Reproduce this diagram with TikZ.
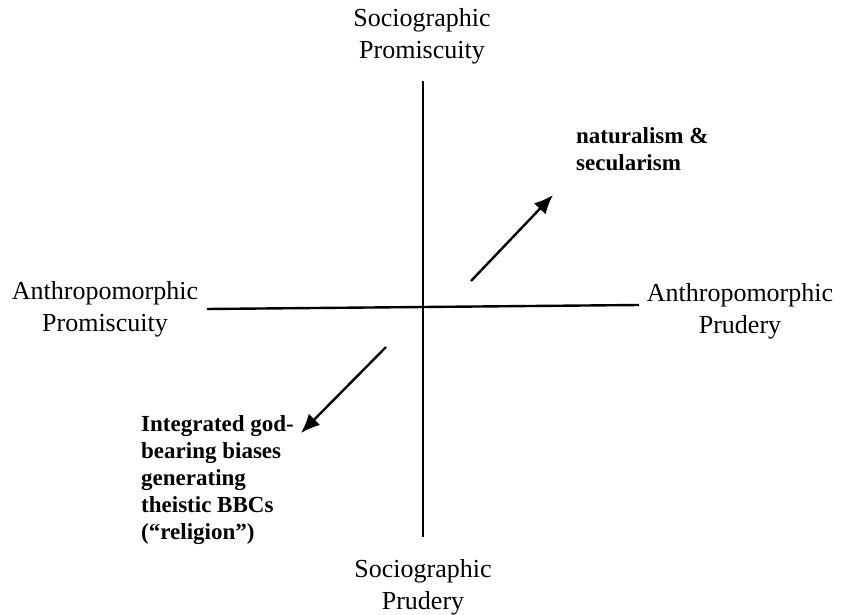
\documentclass[tikz,border=0pt]{standalone}
\usepackage{fontspec}
\setmainfont{Liberation Serif}
\usetikzlibrary{arrows.meta, positioning}

\tikzset{
  axislabel/.style={align=center, inner sep=0pt, font=\fontsize{26}{32}\selectfont},
  trend/.style={align=left, inner sep=0pt, font=\bfseries\fontsize{23}{27}\selectfont}
}

\begin{document}
\begin{tikzpicture}[>={Latex[length=19pt,width=16pt]}, x=1pt, y=-1pt, line width=2.4pt]
\useasboundingbox (0,0) rectangle (841,615);

\coordinate (ytop) at (423,81);
\coordinate (ybot) at (423,537);
\coordinate (xlft) at (207,309);
\coordinate (xrgt) at (639,305);

\draw (ytop) -- (ybot);
\draw (xlft) -- (xrgt);

\node[axislabel] (socprom) at (422,36) {Sociographic\\Promiscuity};
\node[axislabel] (socprud) at (423,587) {Sociographic\\Prudery};
\node[axislabel] (antprom) at (105,309) {Anthropomorphic\\Promiscuity};
\node[axislabel] (antprud) at (740,311) {Anthropomorphic\\Prudery};

\node[trend, anchor=west] (natsec) at (575,149) {naturalism \&\\secularism};
\node[trend, anchor=west] (religion) at (140,480) {Integrated god-\\bearing biases\\generating\\theistic BBCs\\(“religion”)};

\coordinate (ne1) at (471,281);
\coordinate (ne2) at (553,195);
\coordinate (sw1) at (386,347);
\coordinate (sw2) at (301,433);

\draw[->] (ne1) -- (ne2);
\draw[->] (sw1) -- (sw2);

\end{tikzpicture}
\end{document}
